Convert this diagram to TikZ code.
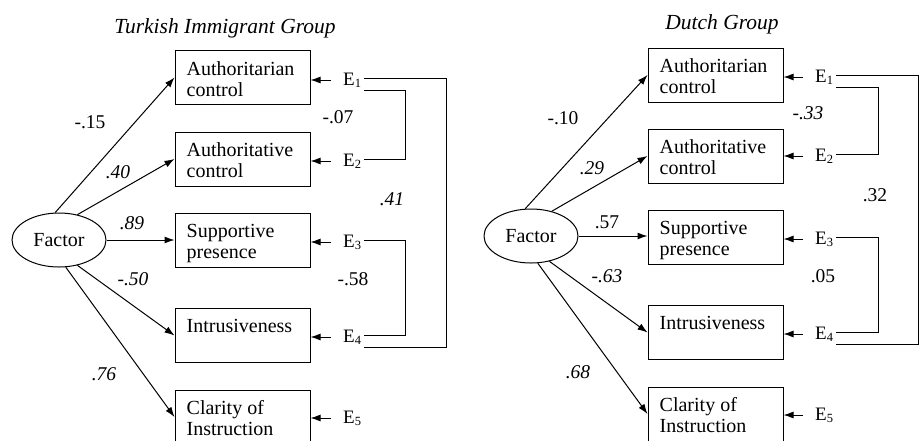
\documentclass[tikz,border=0pt]{standalone}
\usepackage{fontspec}
\setmainfont{Liberation Serif}
\usetikzlibrary{arrows.meta,shapes.geometric}
\newcommand{\Esub}[1]{E\raisebox{-2pt}{\fontsize{12.5}{12.5}\selectfont #1}}
\begin{document}
\begin{tikzpicture}[x=1pt,y=-1pt,
 box/.style={draw, line width=1pt, minimum width=135pt, minimum height=54pt, inner sep=0pt},
 btext/.style={anchor=north west, align=left, inner sep=0pt, font=\fontsize{20}{21}\selectfont},
 fac/.style={draw, ellipse, line width=1pt, minimum width=94pt, minimum height=54pt, inner sep=0pt, font=\fontsize{20}{21}\selectfont},
 elab/.style={inner sep=0pt, font=\fontsize{19}{20}\selectfont},
 arr/.style={-{Latex[length=10pt,width=7pt]}, line width=1pt},
 corr/.style={line width=0.9pt},
 num/.style={inner sep=0pt, font=\fontsize{19.5}{21}\selectfont},
 inum/.style={inner sep=0pt, font=\fontsize{19.5}{21}\selectfont\itshape},
 ttl/.style={inner sep=0pt, font=\fontsize{21.5}{24}\selectfont\itshape}]
\useasboundingbox (0,0) rectangle (920,440);

% ---------------- Left panel ----------------
\node[ttl] (lttl) at (225,28) {Turkish Immigrant Group};
\node[fac] (lf) at (59,240) {Factor};
\node[box] (lb1) at (242.5,77.5) {};
\node[box] (lb2) at (242.5,159) {};
\node[box] (lb3) at (242.5,240.5) {};
\node[box] (lb4) at (242.5,335.5) {};
\node[box] (lb5) at (242.5,417) {};
\node[btext] (lt1) at ([xshift=12pt,yshift=-11pt]lb1.north west) {Authoritarian\\control};
\node[btext] (lt2) at ([xshift=12pt,yshift=-11pt]lb2.north west) {Authoritative\\control};
\node[btext] (lt3) at ([xshift=12pt,yshift=-11pt]lb3.north west) {Supportive\\presence};
\node[btext] (lt4) at ([xshift=12pt,yshift=-11pt]lb4.north west) {Intrusiveness};
\node[btext] (lt5) at ([xshift=12pt,yshift=-11pt]lb5.north west) {Clarity of\\Instruction};

\draw[arr] (lf.98) -- (lb1.west);
\draw[arr] (lf.54) -- (lb2.west);
\draw[arr] (lf.0) -- (lf.0 -| lb3.west);
\draw[arr] (lf.-54) -- (lb4.west);
\draw[arr] (lf.-76) -- (lb5.west);

\node[elab, anchor=west] (le1) at (343,80) {\Esub{1}};
\node[elab, anchor=west] (le2) at (343,161) {\Esub{2}};
\node[elab, anchor=west] (le3) at (343,242) {\Esub{3}};
\node[elab, anchor=west] (le4) at (343,337) {\Esub{4}};
\node[elab, anchor=west] (le5) at (343,418) {\Esub{5}};
\foreach \i in {1,...,5}{
  \draw[arr, shorten <=12pt] (le\i.west) -- (le\i.west -| lb\i.east);
}
\coordinate (lin) at (405,0);
\coordinate (lout) at (446,0);
\coordinate (l1u) at ([xshift=3pt,yshift=2pt]le1.east);
\coordinate (l1d) at ([xshift=3pt,yshift=-10pt]le1.east);
\coordinate (l2u) at ([xshift=3pt,yshift=2pt]le2.east);
\coordinate (l3u) at ([xshift=3pt,yshift=2pt]le3.east);
\coordinate (l4u) at ([xshift=3pt,yshift=2pt]le4.east);
\coordinate (l4d) at ([xshift=3pt,yshift=-10pt]le4.east);
\draw[corr] (l1u) -| (lout |- l4d) -- (l4d);
\draw[corr] (l1d) -| (lin |- l2u) -- (l2u);
\draw[corr] (l3u) -| (lin |- l4u) -- (l4u);

\node[num]  (lc1) at (90,122) {-.15};
\node[inum] (lc2) at (118,172) {.40};
\node[inum] (lc3) at (132,223) {.89};
\node[inum] (lc4) at (133,279) {-.50};
\node[inum] (lc5) at (104,374) {.76};
\node[num]  (lc6) at (338,117) {-.07};
\node[inum] (lc7) at (392,199) {.41};
\node[num]  (lc8) at (353,279) {-.58};

% ---------------- Right panel ----------------
\node[ttl] (rttl) at (722,24) {Dutch Group};
\node[fac] (rf) at (531,236) {Factor};
\node[box] (rb1) at (715.5,75) {};
\node[box] (rb2) at (715.5,156) {};
\node[box] (rb3) at (715.5,237.5) {};
\node[box] (rb4) at (715.5,332.5) {};
\node[box] (rb5) at (715.5,414) {};
\node[btext] (rt1) at ([xshift=12pt,yshift=-11pt]rb1.north west) {Authoritarian\\control};
\node[btext] (rt2) at ([xshift=12pt,yshift=-11pt]rb2.north west) {Authoritative\\control};
\node[btext] (rt3) at ([xshift=12pt,yshift=-11pt]rb3.north west) {Supportive\\presence};
\node[btext] (rt4) at ([xshift=12pt,yshift=-11pt]rb4.north west) {Intrusiveness};
\node[btext] (rt5) at ([xshift=12pt,yshift=-11pt]rb5.north west) {Clarity of\\Instruction};

\draw[arr] (rf.102) -- (rb1.west);
\draw[arr] (rf.50) -- (rb2.west);
\draw[arr] (rf.0) -- (rf.0 -| rb3.west);
\draw[arr] (rf.-54) -- (rb4.west);
\draw[arr] (rf.-76) -- (rb5.west);

\node[elab, anchor=west] (re1) at (815,77) {\Esub{1}};
\node[elab, anchor=west] (re2) at (815,156) {\Esub{2}};
\node[elab, anchor=west] (re3) at (815,239) {\Esub{3}};
\node[elab, anchor=west] (re4) at (815,334) {\Esub{4}};
\node[elab, anchor=west] (re5) at (815,415) {\Esub{5}};
\foreach \i in {1,...,5}{
  \draw[arr, shorten <=12pt] (re\i.west) -- (re\i.west -| rb\i.east);
}
\coordinate (rin) at (878,0);
\coordinate (rout) at (918,0);
\coordinate (r1u) at ([xshift=3pt,yshift=2pt]re1.east);
\coordinate (r1d) at ([xshift=3pt,yshift=-10pt]re1.east);
\coordinate (r2u) at ([xshift=3pt,yshift=2pt]re2.east);
\coordinate (r3u) at ([xshift=3pt,yshift=2pt]re3.east);
\coordinate (r4u) at ([xshift=3pt,yshift=2pt]re4.east);
\coordinate (r4d) at ([xshift=3pt,yshift=-10pt]re4.east);
\draw[corr] (r1u) -| (rout |- r4d) -- (r4d);
\draw[corr] (r1d) -| (rin |- r2u) -- (r2u);
\draw[corr] (r3u) -| (rin |- r4u) -- (r4u);

\node[num]  (rc1) at (563,118) {-.10};
\node[inum] (rc2) at (592,168) {.29};
\node[num]  (rc3) at (607,222) {.57};
\node[inum] (rc4) at (607,276) {-.63};
\node[inum] (rc5) at (578,372) {.68};
\node[inum] (rc6) at (808,113) {-.33};
\node[num]  (rc7) at (875,195) {.32};
\node[num]  (rc8) at (823,276) {.05};
\end{tikzpicture}
\end{document}
